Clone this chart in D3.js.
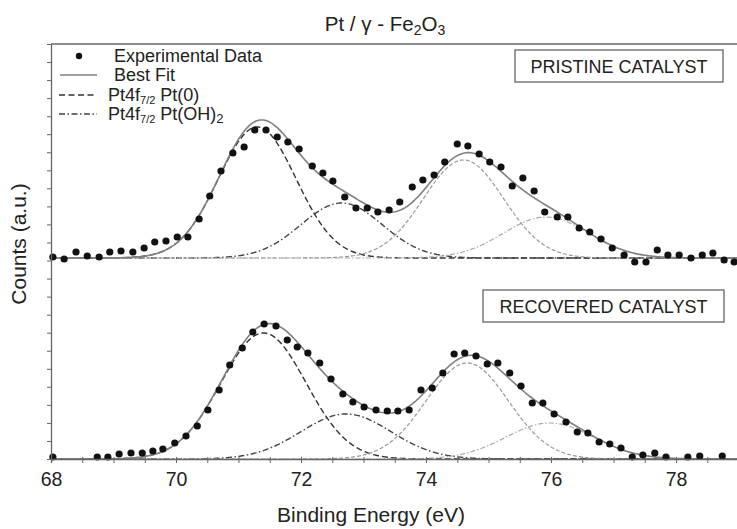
<!DOCTYPE html>
<html>
<head>
<meta charset="utf-8">
<script src="https://cdn.jsdelivr.net/npm/d3@7"></script>
<style>
  body { margin: 0; background: #fff; }
  svg { display: block; font-family: "Liberation Sans", Arial, sans-serif; }
</style>
</head>
<body>
<div id="chart"></div>
<script>
// -----------------------
// XPS Pt4f spectra, pristine vs recovered
// -----------------------
const xTickLabels = [68, 70, 72, 74, 76, 78];

// pristine catalyst: binding energy (eV) and counts (a.u., above its own baseline)
const pristineEnergy = [68.03, 68.21, 68.40, 68.58, 68.77, 68.94, 69.12, 69.31, 69.49, 69.66,
  69.84, 70.02, 70.19, 70.37, 70.54, 70.72, 70.91, 71.09, 71.26, 71.44,
  71.62, 71.79, 71.97, 72.18, 72.35, 72.51, 72.70, 72.88, 73.06, 73.23,
  73.41, 73.58, 73.78, 73.95, 74.13, 74.30, 74.50, 74.67, 74.85, 75.02,
  75.20, 75.38, 75.55, 75.73, 75.90, 76.10, 76.27, 76.45, 76.62, 76.80,
  76.98, 77.17, 77.34, 77.52, 77.70, 77.87, 78.05, 78.24, 78.42, 78.59, 78.77, 78.93];
const pristineCounts = [1, -1, 6, 2, 1, 6, 7, 6, 10, 16,
  17, 21, 21, 39, 62, 87, 105, 111, 128, 128,
  121, 116, 109, 92, 85, 77, 61, 50, 50, 46,
  48, 56, 71, 78, 83, 96, 114, 112, 104, 96,
  91, 72, 80, 67, 46, 41, 41, 30, 26, 19,
  10, 3, -4, -4, 8, 3, 3, 0, 3, 5, -2, -4];

// recovered catalyst
const recoveredEnergy = [68.03, 68.74, 68.91, 69.09, 69.28, 69.46, 69.63, 69.79, 69.98, 70.16,
  70.34, 70.51, 70.69, 70.86, 71.06, 71.23, 71.41, 71.60, 71.78, 71.94,
  72.11, 72.30, 72.48, 72.67, 72.83, 73.01, 73.20, 73.38, 73.55, 73.73,
  73.92, 74.10, 74.27, 74.45, 74.62, 74.80, 74.98, 75.15, 75.34, 75.52,
  75.70, 75.87, 76.05, 76.24, 76.42, 76.59, 76.77, 76.94, 77.12, 77.30,
  77.47, 77.66, 77.84, 78.19, 78.38, 78.74];
const recoveredCounts = [2, 2, 2, 5, 6, 6, 8, 10, 16, 23,
  33, 49, 69, 94, 111, 127, 135, 133, 119, 112,
  106, 96, 80, 65, 57, 52, 49, 48, 48, 49,
  69, 71, 86, 105, 106, 103, 95, 96, 86, 73,
  56, 56, 45, 37, 27, 26, 17, 15, 11, 2,
  4, 6, 2, 2, 3, 3];

// fitted components: Pt4f7/2 Pt(0), Pt4f7/2 Pt(OH)2, Pt4f5/2 Pt(0), Pt4f5/2 Pt(OH)2
const pristinePeakCenter = [71.30, 72.65, 74.60, 75.92];
const pristinePeakHeight = [131, 55, 98, 41];
const pristinePeakFwhm = [1.46, 1.53, 1.51, 1.60];
const recoveredPeakCenter = [71.40, 72.72, 74.66, 75.98];
const recoveredPeakHeight = [126, 45, 96, 36];
const recoveredPeakFwhm = [1.60, 1.70, 1.55, 1.65];

const pristineOffset = 201; // vertical offset of the top spectrum

const width = 737, height = 529;
const margin = { top: 44, right: 0, bottom: 70, left: 51 };

const svg = d3.select("#chart").append("svg")
  .attr("width", width)
  .attr("height", height);

const x = d3.scaleLinear().domain([68, 79]).range([margin.left, 738.5]);
const y = d3.scaleLinear().domain([0, 415]).range([height - margin.bottom, margin.top]);

const gray = "#666";

// styles for the 4 components
const compStyle = [
  { stroke: "#333", dash: "6,3", w: 1.4 },
  { stroke: "#444", dash: "6,2.5,1.5,2.5", w: 1.4 },
  { stroke: "#9a9a9a", dash: "4,2", w: 1.2 },
  { stroke: "#aaa", dash: "5,2,1.5,2", w: 1.2 }
];

const grid = d3.range(68, 79.001, 0.02);
const gauss = (e, c, h, fwhm) => {
  const s = fwhm / 2.3548;
  return h * Math.exp(-((e - c) ** 2) / (2 * s * s));
};

function drawPanel(energy, counts, centers, heights, fwhms, offset) {
  const g = svg.append("g");
  const line = d3.line().x(d => x(d[0])).y(d => y(d[1] + offset));

  // components
  centers.forEach((c, i) => {
    const pts = grid.map(e => [e, gauss(e, c, heights[i], fwhms[i])]);
    g.append("path")
      .attr("d", line(pts))
      .attr("fill", "none")
      .attr("stroke", compStyle[i].stroke)
      .attr("stroke-width", compStyle[i].w)
      .attr("stroke-dasharray", compStyle[i].dash);
  });

  // best fit (sum)
  const fit = grid.map(e => [e, d3.sum(centers, (c, i) => gauss(e, c, heights[i], fwhms[i]))]);
  g.append("path")
    .attr("d", line(fit))
    .attr("fill", "none")
    .attr("stroke", "#808080")
    .attr("stroke-width", 1.6);

  // experimental points
  g.selectAll("circle")
    .data(energy.map((e, i) => [e, counts[i]]))
    .join("circle")
    .attr("cx", d => x(d[0]))
    .attr("cy", d => y(d[1] + offset))
    .attr("r", 3.6)
    .attr("fill", "#111");
}

drawPanel(recoveredEnergy, recoveredCounts, recoveredPeakCenter, recoveredPeakHeight, recoveredPeakFwhm, 0);
drawPanel(pristineEnergy, pristineCounts, pristinePeakCenter, pristinePeakHeight, pristinePeakFwhm, pristineOffset);

// axes
const xAxis = svg.append("g")
  .attr("transform", `translate(0,${y(0)})`)
  .call(d3.axisBottom(x)
    .tickValues(d3.range(68, 79.001, 0.5))
    .tickSize(4)
    .tickFormat(d => xTickLabels.includes(d) ? d : ""));
xAxis.select(".domain").attr("stroke", gray).attr("stroke-width", 1.3);
xAxis.selectAll(".tick line").attr("stroke", gray).attr("y1", -2);
xAxis.selectAll(".tick text")
  .attr("font-size", 19.5)
  .attr("fill", "#222")
  .attr("font-family", "Liberation Sans, Arial, sans-serif")
  .attr("dy", "1.05em");

const yAxis = svg.append("g")
  .attr("transform", `translate(${margin.left},0)`)
  .call(d3.axisLeft(y)
    .tickValues(d3.range(0, 416, 415 / 23))
    .tickSize(4)
    .tickSizeOuter(0)
    .tickFormat(""));
yAxis.select(".domain").attr("stroke", gray).attr("stroke-width", 1.3);
yAxis.selectAll(".tick line").attr("stroke", gray);

// top frame line
svg.append("line")
  .attr("x1", margin.left).attr("x2", width)
  .attr("y1", y(415)).attr("y2", y(415))
  .attr("stroke", gray).attr("stroke-width", 1.3);

// titles
const title = svg.append("text")
  .attr("x", 385).attr("y", 31)
  .attr("text-anchor", "middle")
  .attr("font-size", 20.5)
  .attr("fill", "#222");
title.append("tspan").text("Pt / γ - Fe");
title.append("tspan").attr("font-size", 14).attr("dy", 4).text("2");
title.append("tspan").attr("dy", -4).text("O");
title.append("tspan").attr("font-size", 14).attr("dy", 4).text("3");

svg.append("text")
  .attr("x", 371).attr("y", 522)
  .attr("text-anchor", "middle")
  .attr("font-size", 21)
  .attr("fill", "#222")
  .text("Binding Energy (eV)");

svg.append("text")
  .attr("transform", "translate(26,244) rotate(-90)")
  .attr("text-anchor", "middle")
  .attr("font-size", 21)
  .attr("fill", "#222")
  .text("Counts (a.u.)");

// catalyst labels
const boxes = [
  { label: "PRISTINE CATALYST", x: 515, y: 50, w: 208, h: 32 },
  { label: "RECOVERED CATALYST", x: 483, y: 290, w: 241, h: 32 }
];
boxes.forEach(b => {
  svg.append("rect")
    .attr("x", b.x).attr("y", b.y).attr("width", b.w).attr("height", b.h)
    .attr("fill", "#fff").attr("stroke", gray).attr("stroke-width", 1.3);
  svg.append("text")
    .attr("x", b.x + b.w / 2).attr("y", b.y + b.h / 2 + 6.5)
    .attr("text-anchor", "middle")
    .attr("font-size", 18)
    .attr("fill", "#222")
    .text(b.label);
});

// legend
const legend = svg.append("g");
const rows = [56, 75, 95, 114];
legend.append("circle").attr("cx", 79).attr("cy", rows[0]).attr("r", 3.2).attr("fill", "#111");
legend.append("line").attr("x1", 60).attr("x2", 97).attr("y1", rows[1]).attr("y2", rows[1])
  .attr("stroke", "#808080").attr("stroke-width", 1.6);
legend.append("line").attr("x1", 59).attr("x2", 97).attr("y1", rows[2]).attr("y2", rows[2])
  .attr("stroke", compStyle[0].stroke).attr("stroke-width", 1.4).attr("stroke-dasharray", "6,3.5");
legend.append("line").attr("x1", 59).attr("x2", 97).attr("y1", rows[3]).attr("y2", rows[3])
  .attr("stroke", compStyle[1].stroke).attr("stroke-width", 1.4).attr("stroke-dasharray", compStyle[1].dash);

const legText = (yy, xx) => legend.append("text")
  .attr("x", xx).attr("y", yy + 6).attr("font-size", 18).attr("fill", "#222");
legText(rows[0], 114).text("Experimental Data");
legText(rows[1], 114).text("Best Fit");
const t3 = legText(rows[2], 108);
t3.append("tspan").text("Pt4f");
t3.append("tspan").attr("font-size", 11).attr("dy", 3).text("7/2");
t3.append("tspan").attr("dy", -3).text(" Pt(0)");
const t4 = legText(rows[3], 108);
t4.append("tspan").text("Pt4f");
t4.append("tspan").attr("font-size", 11).attr("dy", 3).text("7/2");
t4.append("tspan").attr("dy", -3).text(" Pt(OH)");
t4.append("tspan").attr("font-size", 13).attr("dy", 3).text("2");
</script>
</body>
</html>
